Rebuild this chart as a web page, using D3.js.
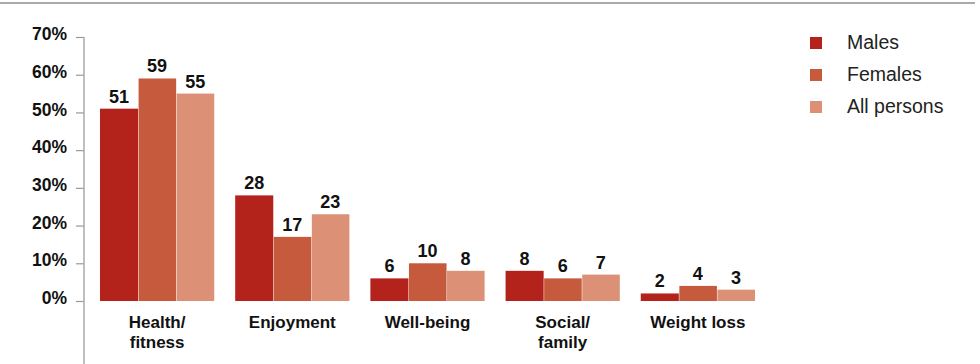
<!DOCTYPE html>
<html>
<head>
<meta charset="utf-8">
<script src="https://cdn.jsdelivr.net/npm/d3@7/dist/d3.min.js"></script>
<style>
  body { margin: 0; background: #fff; }
  svg { display: block; font-family: "Liberation Sans", Arial, sans-serif; }
</style>
</head>
<body>
<svg id="chart" width="980" height="364"></svg>
<script>
const categories = [["Health/", "fitness"], ["Enjoyment"], ["Well-being"], ["Social/", "family"], ["Weight loss"]];
const seriesNames = ["Males", "Females", "All persons"];
const males = [51, 28, 6, 8, 2];
const females = [59, 17, 10, 6, 4];
const allPersons = [55, 23, 8, 7, 3];
const tickValues = [0, 10, 20, 30, 40, 50, 60, 70];
const colors = ["#b3231b", "#c55a3d", "#dc9177"];

const seriesValues = [males, females, allPersons];
const svg = d3.select("#chart");

// top rule
svg.append("line").attr("x1", 0).attr("x2", 975).attr("y1", 3).attr("y2", 3)
  .attr("stroke", "#aaa").attr("stroke-width", 2);

const y = d3.scaleLinear().domain([0, 70]).range([301, 37]);
const x0 = d3.scaleBand().domain(d3.range(categories.length)).range([100, 755]).paddingInner(0.155).paddingOuter(0);
const x1 = d3.scaleBand().domain(d3.range(seriesNames.length)).range([0, x0.bandwidth()]).padding(0);

// y axis
const yAxis = d3.axisLeft(y).tickValues(tickValues).tickFormat(d => d + "%").tickSize(8).tickPadding(9);
const gy = svg.append("g").attr("transform", "translate(84,0)").call(yAxis);
gy.select(".domain").remove();
gy.selectAll(".tick line").attr("stroke", "#999").attr("stroke-width", 1.2);
gy.selectAll(".tick text").attr("font-size", 17.5).attr("font-weight", "bold").attr("fill", "#111")
  .attr("dy", "0.15em");
svg.append("line").attr("x1", 84).attr("x2", 84).attr("y1", y(70)).attr("y2", 364)
  .attr("stroke", "#aaa").attr("stroke-width", 1.5);

// bars
const groups = svg.append("g").selectAll("g").data(categories).join("g")
  .attr("transform", (d, i) => `translate(${x0(i)},0)`);

groups.each(function(cat, ci) {
  const g = d3.select(this);
  seriesValues.forEach((vals, si) => {
    const v = vals[ci];
    g.append("rect")
      .attr("x", x1(si) + (si > 0 ? 0.5 : 0))
      .attr("width", x1.bandwidth() - (si > 0 ? 0.5 : 0))
      .attr("y", y(v)).attr("height", y(0) - y(v))
      .attr("fill", colors[si]);
    g.append("text")
      .attr("x", x1(si) + x1.bandwidth() / 2)
      .attr("y", y(v) - 6)
      .attr("text-anchor", "middle")
      .attr("font-size", 18).attr("font-weight", "bold").attr("fill", "#111")
      .text(v);
  });
  const t = g.append("text").attr("text-anchor", "middle")
    .attr("font-size", 17).attr("font-weight", "bold").attr("fill", "#111");
  cat.forEach((line, li) => {
    t.append("tspan").attr("x", x0.bandwidth() / 2).attr("y", 328 + li * 20).text(line);
  });
});

// legend
const legend = svg.append("g").selectAll("g").data(seriesNames).join("g")
  .attr("transform", (d, i) => `translate(810,${37 + i * 32})`);
legend.append("rect").attr("width", 12).attr("height", 12).attr("fill", (d, i) => colors[i]);
legend.append("text").attr("x", 37).attr("y", 11.5).attr("font-size", 19.5)
  .attr("fill", "#222").text(d => d);
</script>
</body>
</html>
